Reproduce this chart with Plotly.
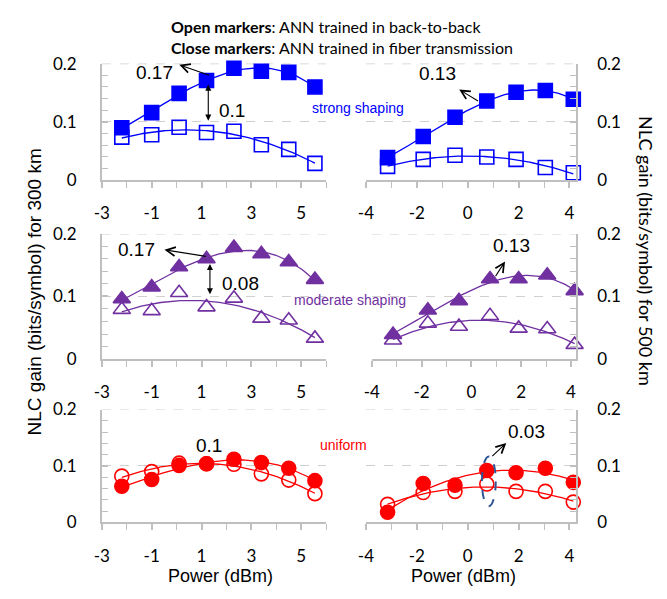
import numpy as np
import plotly.graph_objects as go

W, H = 667, 599

# ---------------- data ----------------
x_300 = [-2.2, -1.0, 0.1, 1.2, 2.3, 3.4, 4.5, 5.55]
x_500 = [-3.15, -1.75, -0.5, 0.75, 1.9, 3.05, 4.15]

strong_300_fiber = [0.090, 0.116, 0.149, 0.171, 0.192, 0.187, 0.185, 0.160]
strong_300_b2b = [0.074, 0.078, 0.091, 0.082, 0.084, 0.061, 0.053, 0.029]
strong_500_fiber = [0.039, 0.075, 0.108, 0.136, 0.151, 0.154, 0.139]
strong_500_b2b = [0.024, 0.036, 0.043, 0.040, 0.036, 0.022, 0.013]

moderate_300_fiber = [0.096, 0.115, 0.147, 0.160, 0.178, 0.168, 0.155, 0.127]
moderate_300_b2b = [0.079, 0.077, 0.106, 0.083, 0.097, 0.065, 0.062, 0.033]
moderate_500_fiber = [0.039, 0.078, 0.093, 0.128, 0.128, 0.134, 0.109]
moderate_500_b2b = [0.030, 0.057, 0.052, 0.069, 0.049, 0.048, 0.023]

uniform_300_fiber = [0.064, 0.076, 0.101, 0.104, 0.112, 0.106, 0.096, 0.074]
uniform_300_b2b = [0.082, 0.090, 0.105, 0.104, 0.103, 0.086, 0.075, 0.051]
uniform_500_fiber = [0.018, 0.069, 0.066, 0.092, 0.088, 0.096, 0.071]
uniform_500_b2b = [0.032, 0.053, 0.055, 0.068, 0.055, 0.055, 0.036]

x_ticks_300 = [-3, -1, 1, 3, 5]
x_ticks_500 = [-4, -2, 0, 2, 4]
y_ticks = [0, 0.1, 0.2]
y_tick_text = ["0", "0.1", "0.2"]

BLUE, PURPLE, RED = "#0000FF", "#7030A0", "#FF0000"

panels = [
    (1, x_300, strong_300_fiber, strong_300_b2b, BLUE, "square"),
    (2, x_500, strong_500_fiber, strong_500_b2b, BLUE, "square"),
    (3, x_300, moderate_300_fiber, moderate_300_b2b, PURPLE, "triangle-up"),
    (4, x_500, moderate_500_fiber, moderate_500_b2b, PURPLE, "triangle-up"),
    (5, x_300, uniform_300_fiber, uniform_300_b2b, RED, "circle"),
    (6, x_500, uniform_500_fiber, uniform_500_b2b, RED, "circle"),
]

fig = go.Figure()


def ax_name(i, p):
    return p if i == 1 else f"{p}{i}"


for idx, xs, fib, b2b, col, sym in panels:
    xa, ya = ax_name(idx, "x"), ax_name(idx, "y")
    for ys, deg, filled in ((b2b, 2, False), (fib, 3, True)):
        coef = np.polyfit(xs, ys, deg)
        xf = np.linspace(min(xs), max(xs), 120)
        fig.add_trace(go.Scatter(x=xf, y=np.polyval(coef, xf), mode="lines",
                                 line=dict(color=col, width=1.3), xaxis=xa, yaxis=ya,
                                 hoverinfo="skip", showlegend=False, cliponaxis=False))
        msym = sym if filled else sym + "-open"
        msize = 14 if sym != "triangle-up" else 15
        fig.add_trace(go.Scatter(x=xs, y=ys, mode="markers", cliponaxis=False,
                                 marker=dict(symbol=msym, size=msize, color=col,
                                             line=dict(color=col, width=1.6)),
                                 xaxis=xa, yaxis=ya, showlegend=False))

# ---------------- axes ----------------
def px_x(p):
    return p / W


def px_y(p):
    return 1 - p / H


rows = [(54.5, 175.5), (231.0, 360.7), (413.0, 530.0)]
left_dom = [px_x(95), px_x(322)]
right_doms = [[px_x(362.3), px_x(575)], [px_x(368.3), px_x(575)], [px_x(362.3), px_x(575)]]
right_ranges = [[-4, 4.26], [-4, 4.21], [-4, 4.26]]

AXCOL = "#BFBFBF"
TICKFONT = dict(family="Lato, Arial", size=17, color="#000000")

layout = dict(width=W, height=H, margin=dict(l=0, r=0, t=0, b=0),
              paper_bgcolor="white", plot_bgcolor="white", showlegend=False)

shapes = []
for r, (top, bot) in enumerate(rows):
    ydom = [px_y(bot), px_y(top)]
    for c in range(2):
        idx = r * 2 + c + 1
        xk, yk = ax_name(idx, "xaxis"), ax_name(idx, "yaxis")
        if c == 0:
            xdom, xr, t0, tv = left_dom, [-3, 6], -3, x_ticks_300
        else:
            xdom, xr, t0, tv = right_doms[r], right_ranges[r], -4, x_ticks_500
        layout[xk] = dict(domain=xdom, range=xr, anchor=ax_name(idx, "y"),
                          tickvals=tv, ticktext=[str(v) for v in tv],
                          showgrid=False, zeroline=False,
                          showline=True, linecolor=AXCOL, linewidth=1.5,
                          ticks="outside", ticklen=6, tickcolor=AXCOL, tickwidth=1.5,
                          minor=dict(dtick=1, tick0=t0, ticks="outside", ticklen=6,
                                     tickcolor=AXCOL, tickwidth=1.2),
                          tickfont=TICKFONT, ticklabelstandoff=11, fixedrange=True)
        layout[yk] = dict(domain=ydom, range=[0, 0.2], anchor=ax_name(idx, "x"),
                          side="left" if c == 0 else "right",
                          tickvals=y_ticks, ticktext=y_tick_text,
                          showgrid=True, gridcolor="#D0D0D0", griddash="dash", gridwidth=1.2,
                          zeroline=False, showline=True, linecolor=AXCOL, linewidth=1.5,
                          ticks="inside", ticklen=6, tickcolor=AXCOL, tickwidth=1.5,
                          minor=dict(dtick=0.02, tick0=0, ticks="inside", ticklen=6,
                                     tickcolor=AXCOL, tickwidth=1.2, showgrid=False),
                          tickfont=TICKFONT, ticklabelstandoff=20 if c == 0 else 16,
                          fixedrange=True)
        # top dashed gridline at 0.2
        shapes.append(dict(type="line", xref=f"{ax_name(idx, 'x')} domain",
                           yref=ax_name(idx, "y"), x0=0, x1=1, y0=0.2, y1=0.2,
                           line=dict(color="#D0D0D0", width=1.2, dash="dash"), layer="below"))

fig.update_layout(**layout)

# ---------------- annotations ----------------
ann = []
NUMFONT = dict(family="Liberation Sans, Arial", size=19, color="#000000")


def arrow(xref, yref, x, y, ax, ay, head=5, size=1.6, side="end", col="#000000"):
    ann.append(dict(xref=xref, yref=yref, x=x, y=y, ax=ax, ay=ay, axref=xref, ayref=yref,
                    text="", showarrow=True, arrowhead=head, arrowsize=size,
                    arrowwidth=1.1, arrowcolor=col, arrowside=side,
                    startarrowhead=head, startarrowsize=size, standoff=0, startstandoff=0))


def label(xref, yref, x, y, text, font=NUMFONT):
    ann.append(dict(xref=xref, yref=yref, x=x, y=y, text=text, showarrow=False,
                    font=font, xanchor="center", yanchor="middle"))


# top-left
label("x", "y", -0.885, 0.185, "0.17")
arrow("x", "y", 0.107, 0.198, 1.37, 0.179)
arrow("x", "y", 1.27, 0.164, 1.27, 0.0997, head=2, size=1.1, side="end+start")
label("x", "y", 2.23, 0.119, "0.1")
# top-right
label("x2", "y2", -1.174, 0.183, "0.13")
arrow("x2", "y2", -0.335, 0.1555, 0.465, 0.1345)
# middle-left
label("x3", "y3", -1.61, 0.1745, "0.17")
arrow("x3", "y3", -0.488, 0.1745, 1.234, 0.1637)
arrow("x3", "y3", 1.337, 0.152, 1.337, 0.101, head=2, size=1.1, side="end+start")
label("x3", "y3", 2.556, 0.1215, "0.08")
# middle-right
label("x4", "y4", 1.623, 0.1808, "0.13")
arrow("x4", "y4", 1.353, 0.156, 0.933, 0.130)
# bottom-left
label("x5", "y5", 1.30, 0.1366, "0.1")
# bottom-right
label("x6", "y6", 2.314, 0.1609, "0.03")
arrow("x6", "y6", 1.516, 0.1409, 0.907, 0.115)

# shaping labels
SF = "Liberation Sans, Arial"
label("paper", "paper", px_x(354), px_y(100.3), "strong shaping",
      dict(family=SF, size=14, color=BLUE))
label("paper", "paper", px_x(346), px_y(300), "moderate shaping",
      dict(family=SF, size=14, color=PURPLE))
label("paper", "paper", px_x(339.5), px_y(450), "uniform",
      dict(family=SF, size=14, color=RED))

# header
HF = dict(family="Lato, Arial", size=16, color="#000000")
ann.append(dict(xref="paper", yref="paper", x=px_x(163), y=px_y(15.7), xanchor="left",
                yanchor="middle", showarrow=False, font=HF,
                text="<b>Open markers</b>: ANN trained in back-to-back"))
ann.append(dict(xref="paper", yref="paper", x=px_x(163), y=px_y(38.3), xanchor="left",
                yanchor="middle", showarrow=False, font=HF,
                text="<b>Close markers</b>: ANN trained in fiber transmission"))

# axis titles
ann.append(dict(xref="paper", yref="paper", x=px_x(27), y=px_y(291), textangle=-90,
                showarrow=False, xanchor="center", yanchor="middle",
                font=dict(family=SF, size=19, color="#000000"),
                text="NLC gain (bits/symbol) for 300 km"))
ann.append(dict(xref="paper", yref="paper", x=px_x(645), y=px_y(249), textangle=90,
                showarrow=False, xanchor="center", yanchor="middle",
                font=dict(family="Lato, Arial", size=18, color="#000000"),
                text="NLC gain (bits/symbol) for 500 km"))
ann.append(dict(xref="paper", yref="paper", x=px_x(215), y=px_y(586), showarrow=False,
                xanchor="center", yanchor="middle", borderpad=0,
                font=dict(family=SF, size=18, color="#000000"), text="Power (dBm)"))
ann.append(dict(xref="paper", yref="paper", x=px_x(461), y=px_y(586), showarrow=False,
                xanchor="center", yanchor="middle", borderpad=0,
                font=dict(family=SF, size=18, color="#000000"), text="Power (dBm)"))

fig.update_layout(annotations=ann)

# dashed ellipse
shapes.append(dict(type="circle", xref="x6", yref="y6", x0=0.558, x1=1.101, y0=0.0286,
                   y1=0.1166, line=dict(color="#2F5597", width=2, dash="dash")))
fig.update_layout(shapes=shapes)

fig.write_html("out.html")
